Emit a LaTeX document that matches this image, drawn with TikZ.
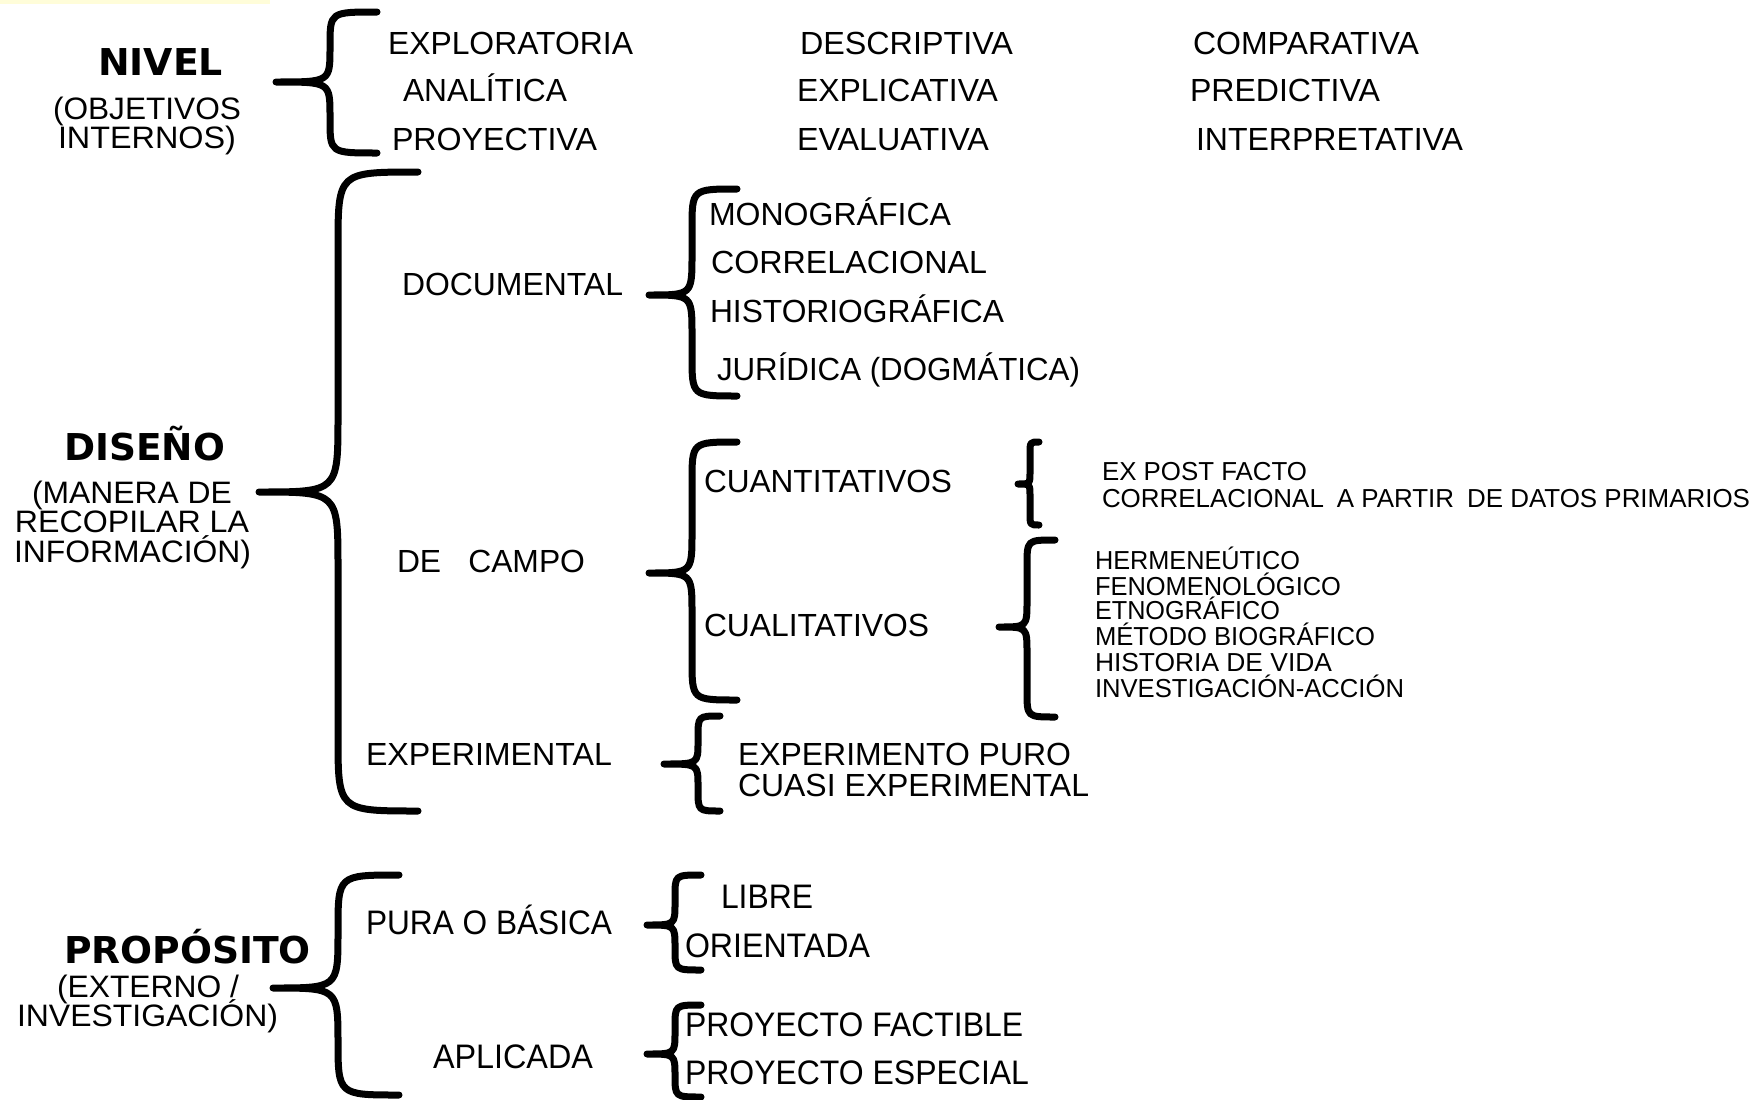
\documentclass[tikz,border=0pt]{standalone}
\usepackage{fontspec}
\setmainfont{Liberation Sans}
\newfontfamily\headfont{DejaVu Sans}
\usepackage{graphicx}
\newcommand\fitw[2]{\resizebox{#1pt}{\height}{#2}}
% curly brace: end x, bar x, tip x, top y, tip y, bottom y, curl
\newcommand\curlyb[7]{%
  \draw[bracestroke] (#1,#4) .. controls (#2,#4) .. (#2,#4+#7)
    -- (#2,#5-#7) .. controls (#2,#5) .. (#3,#5)
    .. controls (#2,#5) .. (#2,#5+#7)
    -- (#2,#6-#7) .. controls (#2,#6) .. (#1,#6);}
\begin{document}
\begin{tikzpicture}[x=1pt,y=-1pt,
  bracestroke/.style={line width=7pt,line cap=round,line join=round},
  lbl/.style={anchor=base west,inner sep=0pt,outer sep=0pt,font=\fontsize{32}{34}\selectfont},
  lblp/.style={lbl,font=\fontsize{34}{36}\selectfont},
  small/.style={lbl,font=\fontsize{26}{28}\selectfont},
  head/.style={anchor=base west,inner sep=0pt,outer sep=0pt,font=\headfont\bfseries\fontsize{37}{40}\selectfont},
  paren/.style={lbl,font=\fontsize{31}{33}\selectfont}]
\useasboundingbox (0,0) rectangle (1764,1100);
\fill[white] (0,0) rectangle (1764,1100);
\fill[yellow!15] (0,0) rectangle (270,4);

% ---------- NIVEL ----------
\node[head]  (nivel) at (98,75)  {\fitw{125}{NIVEL}};
\node[paren] (niv1)  at (53,119) {\fitw{188}{(OBJETIVOS}};
\node[paren] (niv2)  at (58,148) {\fitw{178}{INTERNOS)}};
\curlyb{377}{330}{276}{12}{82}{153}{34}
\node[lbl] (n11) at (388,54)  {\fitw{245}{EXPLORATORIA}};
\node[lbl] (n12) at (800,54)  {\fitw{213}{DESCRIPTIVA}};
\node[lbl] (n13) at (1193,54) {\fitw{226}{COMPARATIVA}};
\node[lbl] (n21) at (403,101) {\fitw{164}{ANALÍTICA}};
\node[lbl] (n22) at (797,101) {\fitw{201}{EXPLICATIVA}};
\node[lbl] (n23) at (1190,101){\fitw{190}{PREDICTIVA}};
\node[lbl] (n31) at (392,150) {\fitw{205}{PROYECTIVA}};
\node[lbl] (n32) at (797,150) {\fitw{192}{EVALUATIVA}};
\node[lbl] (n33) at (1196,150){\fitw{267}{INTERPRETATIVA}};

% ---------- DISEÑO ----------
\node[head]  (dis)  at (64,460)  {\fitw{161}{DISEÑO}};
\node[paren] (dis1) at (32,503)  {\fitw{200}{(MANERA DE}};
\node[paren] (dis2) at (15,532)  {\fitw{234}{RECOPILAR LA}};
\node[paren] (dis3) at (14,562)  {\fitw{237}{INFORMACIÓN)}};
\curlyb{418}{338}{259}{172}{492}{811}{75}

\node[lbl] (doc) at (402,295) {\fitw{221}{DOCUMENTAL}};
\curlyb{737}{692}{649}{189}{295}{396}{40}
\node[lbl] (mono) at (709,225) {\fitw{242}{MONOGRÁFICA}};
\node[lbl] (corr) at (711,273) {\fitw{276}{CORRELACIONAL}};
\node[lbl] (hist) at (710,322) {\fitw{294}{HISTORIOGRÁFICA}};
\node[lbl] (jur)  at (717,380) {\fitw{363}{JURÍDICA (DOGMÁTICA)}};

\node[lbl] (camp) at (397,572) {\fitw{188}{DE\hspace{0.85em}CAMPO}};
\curlyb{737}{692}{649}{442}{573}{700}{40}
\node[lbl] (cuan) at (704,492) {\fitw{248}{CUANTITATIVOS}};
\node[lbl] (cual) at (704,636) {\fitw{225}{CUALITATIVOS}};

\curlyb{1039}{1030}{1018}{442}{484}{525}{12}
\node[small] (expf) at (1102,480) {\fitw{205}{EX POST FACTO}};
\node[small] (corp) at (1102,507) {\fitw{648}{CORRELACIONAL\hspace{0.5em}A PARTIR\hspace{0.5em}DE DATOS PRIMARIOS}};

\curlyb{1055}{1027}{999}{540}{627}{717}{26}
\node[small] (herm) at (1095,569) {\fitw{205}{HERMENEÚTICO}};
\node[small] (feno) at (1095,595) {\fitw{246}{FENOMENOLÓGICO}};
\node[small] (etno) at (1095,619) {\fitw{185}{ETNOGRÁFICO}};
\node[small] (meto) at (1095,645) {\fitw{280}{MÉTODO BIOGRÁFICO}};
\node[small] (hvid) at (1095,671) {\fitw{237}{HISTORIA DE VIDA}};
\node[small] (inva) at (1095,697) {\fitw{309}{INVESTIGACIÓN-ACCIÓN}};

\node[lbl] (expe) at (366,765) {\fitw{246}{EXPERIMENTAL}};
\curlyb{720}{698}{664}{716}{764}{811}{22}
\node[lbl] (epur) at (738,765) {\fitw{333}{EXPERIMENTO PURO}};
\node[lbl] (cuas) at (738,796) {\fitw{351}{CUASI EXPERIMENTAL}};

% ---------- PROPÓSITO ----------
\node[head]  (prop)  at (64,963)  {\fitw{247}{PROPÓSITO}};
\node[paren] (prop1) at (57,997)  {\fitw{182}{(EXTERNO /}};
\node[paren] (prop2) at (17,1026) {\fitw{261}{INVESTIGACIÓN)}};
\curlyb{399}{338}{273}{875}{988}{1095}{55}

\node[lblp] (pura) at (366,934) {\fitw{246}{PURA O BÁSICA}};
\curlyb{701}{675}{647}{875}{925}{970}{22}
\node[lblp] (libr) at (721,908) {\fitw{92}{LIBRE}};
\node[lblp] (orie) at (685,957) {\fitw{185}{ORIENTADA}};

\node[lblp] (apli) at (433,1068) {\fitw{160}{APLICADA}};
\curlyb{701}{675}{647}{1005}{1054}{1097}{22}
\node[lblp] (pfac) at (685,1036) {\fitw{338}{PROYECTO FACTIBLE}};
\node[lblp] (pesp) at (685,1084) {\fitw{344}{PROYECTO ESPECIAL}};
\end{tikzpicture}
\end{document}
